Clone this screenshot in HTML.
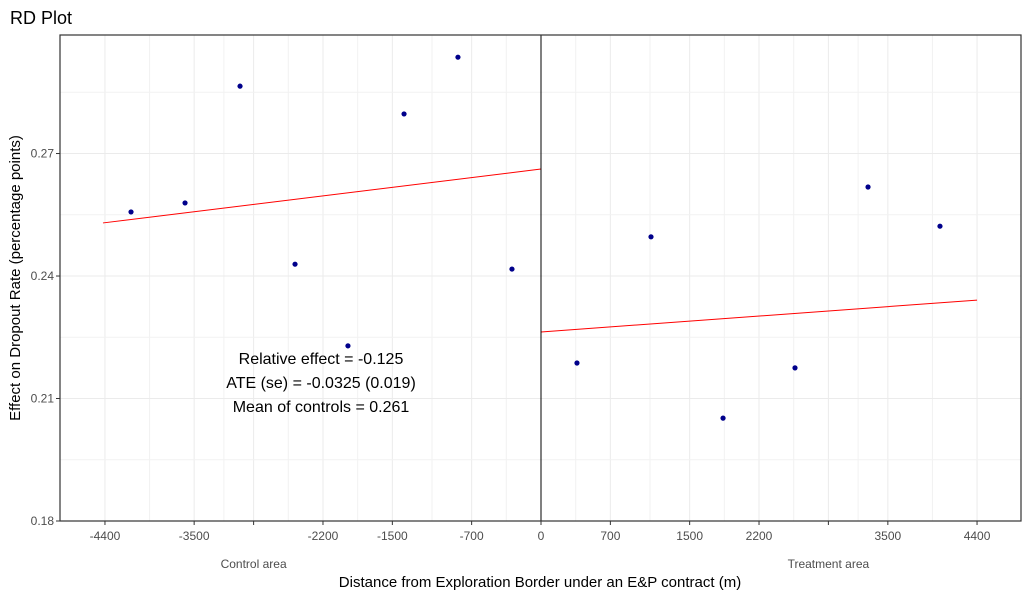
<!DOCTYPE html>
<html><head><meta charset="utf-8"><style>
body{margin:0;background:#fff;}
svg{display:block;font-family:"Liberation Sans",Arial,sans-serif;}
</style></head><body>
<svg id="chart" width="1030" height="598">
<text x="10" y="24" font-size="18" fill="#000">RD Plot</text>
<g id="grid"></g><g id="lines"></g><g id="pts"></g><g id="axes"></g>
<text x="321" y="364" font-size="16" text-anchor="middle">Relative effect = -0.125</text>
<text x="321" y="388" font-size="16" text-anchor="middle">ATE (se) = -0.0325 (0.019)</text>
<text x="321" y="412" font-size="16" text-anchor="middle">Mean of controls = 0.261</text>
<text x="540" y="587" font-size="15" text-anchor="middle">Distance from Exploration Border under an E&amp;P contract (m)</text>
<text transform="translate(20,278) rotate(-90)" font-size="15" text-anchor="middle">Effect on Dropout Rate (percentage points)</text>
</svg>
<script>
const xTicks=[-4400,-3500,-2900,-2200,-1500,-700,0,700,1500,2200,2900,3500,4400];
const xTickLabels=["-4400","-3500","","-2200","-1500","-700","0","700","1500","2200","","3500","4400"];
const yTicks=[0.18,0.21,0.24,0.27];
const yTickLabels=["0.18","0.21","0.24","0.27"];
const ptX=[-4137,-3592,-3037,-2482,-1948,-1382,-838,-293,363,1110,1837,2563,3300,4026];
const ptY=[0.2557,0.2579,0.2865,0.2429,0.2229,0.2797,0.2936,0.2417,0.2187,0.2496,0.2052,0.2175,0.2618,0.2522];
const fitLeftX=[-4420,0], fitLeftY=[0.2530,0.2662];
const fitRightX=[0,4400], fitRightY=[0.2263,0.2341];
const L=60,R=1021,T=35,B=521;
const xs=v=>541+v*0.0991;
const ys=v=>521-(v-0.18)*4083;
const NS="http://www.w3.org/2000/svg";
function mk(tag,attrs,parent){const e=document.createElementNS(NS,tag);for(const k in attrs)e.setAttribute(k,attrs[k]);document.getElementById(parent).appendChild(e);return e;}
// grid
for(let i=0;i<xTicks.length;i++){
  const g=mk('line',{x1:xs(xTicks[i]),x2:xs(xTicks[i]),y1:T,y2:B,stroke:'#ebebeb','stroke-width':1},'grid');
  
  
  if(i<xTicks.length-1){
    const m=(xTicks[i]+xTicks[i+1])/2;
    const g2=mk('line',{x1:xs(m),x2:xs(m),y1:T,y2:B,stroke:'#f2f2f2','stroke-width':1},'grid');
    
    
  }
}
const yAll=[0.195,0.21,0.225,0.24,0.255,0.27,0.285];
for(const v of yTicks.concat([0.195,0.225,0.255,0.285])){
  const g=mk('line',{x1:L,x2:R,y1:ys(v),y2:ys(v),stroke:yTicks.includes(v)?'#ebebeb':'#f2f2f2','stroke-width':1},'grid');
  
  
}
// fit lines
let l1=mk('line',{x1:xs(fitLeftX[0]),y1:ys(fitLeftY[0]),x2:xs(fitLeftX[1]),y2:ys(fitLeftY[1]),stroke:'#ff0000','stroke-width':1},'lines');


let l2=mk('line',{x1:xs(fitRightX[0]),y1:ys(fitRightY[0]),x2:xs(fitRightX[1]),y2:ys(fitRightY[1]),stroke:'#ff0000','stroke-width':1},'lines');


// cutoff
let c=mk('line',{x1:xs(0),x2:xs(0),y1:T,y2:B,stroke:'#000','stroke-width':1},'lines');


// points
for(let i=0;i<ptX.length;i++){
  const p=mk('circle',{cx:xs(ptX[i]),cy:ys(ptY[i]),r:2.6,fill:'#00008b'},'pts');
  
  
}
// axes frame
let f=mk('rect',{x:L,y:T,width:R-L,height:B-T,fill:'none',stroke:'#333','stroke-width':1.2},'axes');


for(let i=0;i<xTicks.length;i++){
  const x=xs(xTicks[i]);
  const t=mk('line',{x1:x,x2:x,y1:B,y2:B+4,stroke:'#333'},'axes');
  
  
  const tx=mk('text',{x:x,y:B+19,'font-size':12,'text-anchor':'middle',fill:'#4d4d4d'},'axes');
  tx.textContent=xTickLabels[i];
  
  
}
let ca=mk('text',{x:xs(-2900),y:B+47,'font-size':12,'text-anchor':'middle',fill:'#4d4d4d'},'axes');
ca.textContent='Control area';


let ta=mk('text',{x:xs(2900),y:B+47,'font-size':12,'text-anchor':'middle',fill:'#4d4d4d'},'axes');
ta.textContent='Treatment area';


for(let i=0;i<yTicks.length;i++){
  const y=ys(yTicks[i]);
  const t=mk('line',{x1:L-4,x2:L,y1:y,y2:y,stroke:'#333'},'axes');
  
  
  const tx=mk('text',{x:L-6,y:y+4,'font-size':12,'text-anchor':'end',fill:'#4d4d4d'},'axes');
  tx.textContent=yTickLabels[i];
  
  
}
</script>
</body></html>
